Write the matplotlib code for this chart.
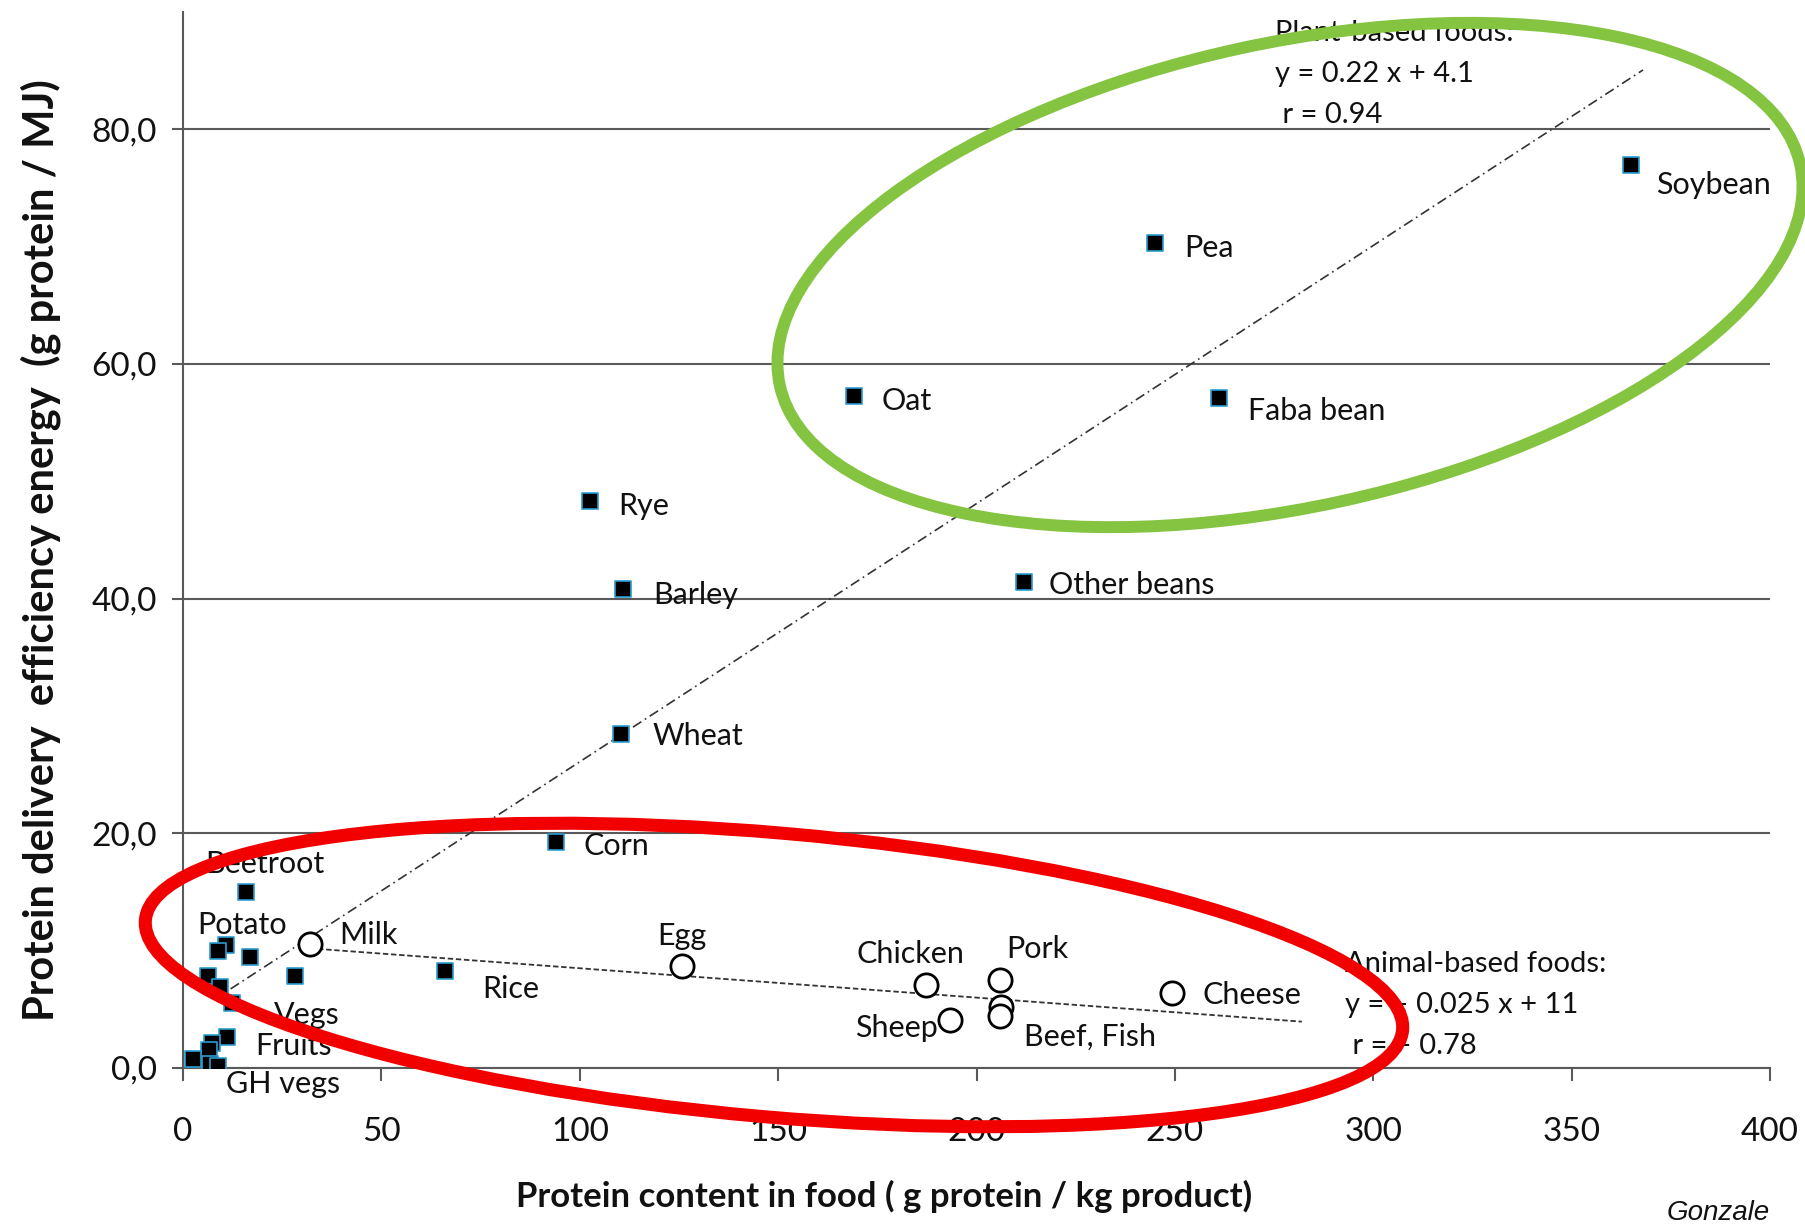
import matplotlib
matplotlib.use("Agg")
import numpy as np
import matplotlib.pyplot as plt
from matplotlib.patches import Ellipse
from matplotlib.transforms import Affine2D
from matplotlib.ticker import FuncFormatter

# ---- data -------------------------------------------------------------
plant_names = ["Soybean", "Pea", "Faba bean", "Oat", "Rye", "Barley",
               "Other beans", "Wheat", "Corn", "Rice", "Beetroot",
               "Potato", "Potato", "Vegs", "Vegs", "Vegs", "Vegs", "Vegs",
               "Fruits", "Fruits", "Fruits", "GH vegs", "GH vegs", "GH vegs"]
plant_protein = [365.0, 245.0, 261.0, 169.0, 102.5, 111.0,
                 212.0, 110.5, 94.0, 66.0, 16.0,
                 10.9, 8.9, 12.3, 16.9, 28.2, 6.4, 9.3,
                 11.2, 7.2, 6.6, 6.8, 2.4, 8.9]
plant_efficiency = [77.0, 70.3, 57.1, 57.3, 48.3, 40.8,
                    41.4, 28.5, 19.3, 8.3, 15.0,
                    10.5, 10.0, 5.5, 9.5, 7.8, 7.8, 6.9,
                    2.6, 2.1, 1.5, 0.3, 0.8, 0.2]

animal_names = ["Milk", "Egg", "Chicken", "Pork", "Beef", "Fish", "Sheep", "Cheese"]
animal_protein = [32.0, 125.8, 187.3, 205.9, 206.3, 205.9, 193.3, 249.2]
animal_efficiency = [10.6, 8.7, 7.1, 7.5, 5.2, 4.4, 4.1, 6.4]

# linear trends (slope, intercept) and the protein range they span
plant_fit = (0.22, 4.1)
animal_fit = (-0.025, 11.0)
plant_fit_range = (12.0, 368.0)
animal_fit_range = (32.0, 282.0)

x_ticks = [0, 50, 100, 150, 200, 250, 300, 350, 400]
y_ticks = [0, 20, 40, 60, 80]

plant_text = ["Plant-based foods:", "y = 0.22 x + 4.1", " r = 0.94"]
animal_text = ["Animal-based foods:", "y = \u2013 0.025 x + 11", " r = \u2013 0.78"]

# ---- figure -----------------------------------------------------------
W, H, DPI = 1806, 1225, 100
FONT = "Lato"
plt.rcParams["font.family"] = [FONT, "DejaVu Sans"]
ink = "#111111"

fig = plt.figure(figsize=(W / DPI, H / DPI), dpi=DPI)
fig.patch.set_facecolor("white")
ax = fig.add_axes([183 / W, 1 - 1068 / H, (1770 - 183) / W, (1068 - 12) / H])
ax.set_xlim(0, 400)
ax.set_ylim(0, 90)

axis_grey = "#5a5a5a"
for side in ("top", "right"):
    ax.spines[side].set_visible(False)
for side in ("left", "bottom"):
    ax.spines[side].set_color(axis_grey)
    ax.spines[side].set_linewidth(1.5)

ax.set_xticks(x_ticks)
ax.set_yticks(y_ticks)
ax.yaxis.set_major_formatter(FuncFormatter(lambda v, p: f"{v:.1f}".replace(".", ",")))
ax.tick_params(axis="x", direction="out", length=9, width=1.5, color=axis_grey,
               labelsize=24, pad=26, labelcolor=ink)
ax.tick_params(axis="y", direction="out", length=8, width=1.5, color=axis_grey,
               labelsize=24, pad=11, labelcolor=ink)
ax.yaxis.grid(True, color=axis_grey, linewidth=1.5)
ax.set_axisbelow(True)

ax.set_xlabel("Protein content in food ( g protein / kg product)",
              fontsize=25, fontweight="bold", color=ink)
ax.xaxis.set_label_coords(0.442, -0.106)
ax.set_ylabel("Protein delivery  efficiency energy  (g protein / MJ)",
              fontsize=30, fontweight="bold", color=ink)
ax.yaxis.set_label_coords(-0.077, 0.49)

# trend lines
px = np.linspace(*plant_fit_range, 2)
ax.plot(px, plant_fit[0] * px + plant_fit[1], color="#333333", lw=1.2,
        dashes=(6, 2.5, 1, 2.5), zorder=2)
axx = np.linspace(*animal_fit_range, 2)
ax.plot(axx, animal_fit[0] * axx + animal_fit[1], color="#333333", lw=1.3,
        dashes=(3, 1.5), zorder=2)

# markers
ax.scatter(plant_protein, plant_efficiency, marker="s", s=135, c="black",
           edgecolors="#2b9bd1", linewidths=1.2, zorder=3)
ax.scatter(animal_protein, animal_efficiency, marker="o", s=280, facecolors="white",
           edgecolors="black", linewidths=2.0, zorder=4)

# point labels: name -> (dx, dy, ha, text); offsets in pixels, dy downward
label_fs = 22
plant_labels = {
    "Soybean": (25, 20, "left", "Soybean"),
    "Pea": (29, 5, "left", "Pea"),
    "Faba bean": (29, 13, "left", "Faba bean"),
    "Oat": (28, 5, "left", "Oat"),
    "Rye": (29, 5, "left", "Rye"),
    "Barley": (30, 6, "left", "Barley"),
    "Other beans": (25, 3, "left", "Other beans"),
    "Wheat": (31, 2, "left", "Wheat"),
    "Corn": (28, 4, "left", "Corn"),
    "Rice": (37, 18, "left", "Rice"),
    "Beetroot": (-41, -28, "left", "Beetroot"),
    "Potato": (-29, -20, "left", "Potato"),
    "Vegs": (42, 12, "left", "Vegs"),
    "Fruits": (28, 9, "left", "Fruits"),
    "GH vegs": (16, 20, "left", "GH vegs"),
}
animal_labels = {
    "Milk": (29, -9, "left", "Milk"),
    "Egg": (0, -30, "center", "Egg"),
    "Chicken": (-16, -31, "center", "Chicken"),
    "Pork": (6, -31, "left", "Pork"),
    "Fish": (24, 20, "left", "Beef, Fish"),
    "Sheep": (-12, 8, "right", "Sheep"),
    "Cheese": (31, 2, "left", "Cheese"),
}

def place_labels(names, xs, ys, spec):
    for key, (dx, dy, ha, txt) in spec.items():
        i = names.index(key)
        ax.annotate(txt, (xs[i], ys[i]), xytext=(dx, -dy),
                    textcoords="offset pixels", ha=ha, va="center",
                    fontsize=label_fs, color=ink, zorder=5)

place_labels(plant_names, plant_protein, plant_efficiency, plant_labels)
place_labels(animal_names, animal_protein, animal_efficiency, animal_labels)

# regression notes
for i, line in enumerate(plant_text):
    ax.text(275.2, 88.2 - 3.5 * i, line, fontsize=21, color=ink,
            ha="left", va="center", zorder=5)
for i, line in enumerate(animal_text):
    ax.text(293.0, 8.9 - 3.5 * i, line, fontsize=21, color=ink,
            ha="left", va="center", zorder=5)

# hand-drawn style group outlines, placed in image pixels (y down)
img_px = Affine2D().scale(1, -1).translate(0, H)
fig.add_artist(Ellipse((1290, 275), 1044, 464, angle=-12.2, fill=False,
                       edgecolor="#84c441", linewidth=8.6, transform=img_px,
                       zorder=10))
fig.add_artist(Ellipse((774, 975), 1262, 284, angle=5, fill=False,
                       edgecolor="#f20000", linewidth=9.4, transform=img_px,
                       zorder=10))

fig.text(1667 / W, 5 / H, "Gonzale", fontsize=20, style="italic",
         family=["Liberation Sans", "DejaVu Sans"], color=ink,
         ha="left", va="baseline")

fig.savefig("out.png", dpi=DPI, facecolor="white")
